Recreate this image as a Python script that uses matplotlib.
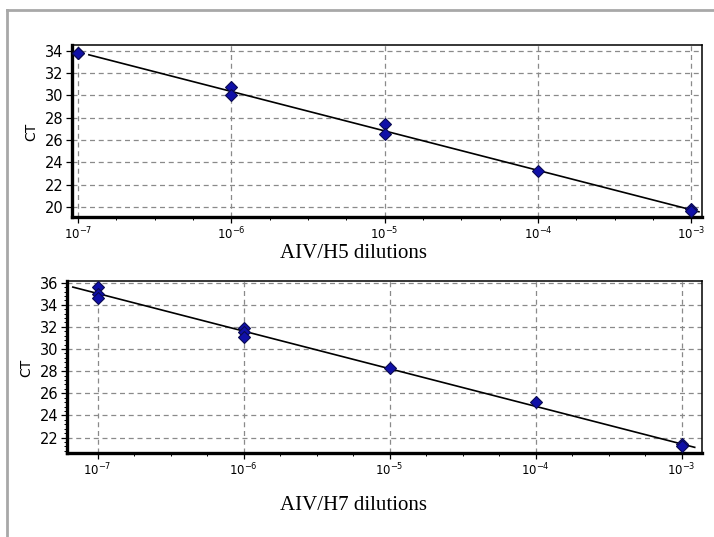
import matplotlib
matplotlib.use("Agg")
import matplotlib.pyplot as plt
import numpy as np
from matplotlib.lines import Line2D
from matplotlib.ticker import FixedLocator, MultipleLocator, FuncFormatter

# AIV/H5 standard curve: log10 dilution vs CT
h5_logdil = [-7, -7, -6, -6, -5, -5, -4, -3, -3]
h5_ct = [33.8, 33.8, 30.7, 30.0, 27.4, 26.5, 23.2, 19.8, 19.6]

# AIV/H7 standard curve
h7_logdil = [-7, -7, -7, -6, -6, -6, -5, -4, -3, -3]
h7_ct = [35.6, 35.0, 34.6, 31.9, 31.5, 31.1, 28.3, 25.2, 21.4, 21.2]

decades = [-7, -6, -5, -4, -3]
h5_yticks = [20, 22, 24, 26, 28, 30, 32, 34]
h7_yticks = [22, 24, 26, 28, 30, 32, 34, 36]

W, H = 714, 537
fig = plt.figure(figsize=(W / 100, H / 100), dpi=100)
fig.patch.set_facecolor("white")

# grey frame of the screenshot
fig.add_artist(Line2D([7 / W, 7 / W], [0, 1 - 10 / H], transform=fig.transFigure,
                      color="#a8a8a8", lw=2))
fig.add_artist(Line2D([7 / W, 1], [1 - 10 / H, 1 - 10 / H], transform=fig.transFigure,
                      color="#a8a8a8", lw=2))


def fmt(v, pos):
    return r"$\mathregular{10^{%d}}$" % round(np.log10(v))


def panel(rect, xs, ys, yticks, xlim, ylim, fit_range, yminor):
    ax = fig.add_axes(rect)
    ax.set_xscale("log")
    ax.set_xlim(10 ** xlim[0], 10 ** xlim[1])
    ax.set_ylim(*ylim)
    ax.xaxis.set_major_locator(FixedLocator([10.0 ** d for d in decades]))
    minor = [10.0 ** (d + q) for d in range(-8, -2) for q in (0.25, 0.5, 0.75)]
    ax.xaxis.set_minor_locator(FixedLocator(minor))
    ax.xaxis.set_major_formatter(FuncFormatter(fmt))
    ax.xaxis.set_minor_formatter(FuncFormatter(lambda v, p: ""))
    ax.set_yticks(yticks)
    if yminor:
        ax.yaxis.set_minor_locator(MultipleLocator(0.4))
    ax.grid(True, which="major", color="#8a8a8a", ls=(0, (4, 3)), lw=0.9)
    ax.set_axisbelow(True)
    for side in ("left", "bottom"):
        ax.spines[side].set_linewidth(2.4)
    for side in ("top", "right"):
        ax.spines[side].set_linewidth(1.1)
    ax.tick_params(axis="both", which="major", length=4, width=0.9)
    ax.tick_params(axis="both", which="minor", length=2.5, width=0.7)
    ax.tick_params(axis="x", pad=2, labelsize=8.5)
    ax.tick_params(axis="y", pad=2, labelsize=10.5)

    # regression line
    k, b = np.polyfit(xs, ys, 1)
    lx = np.array(fit_range)
    ax.plot(10 ** lx, k * lx + b, color="black", lw=1.2, zorder=3)
    ax.plot(10.0 ** np.array(xs), ys, ls="none", marker="D", markersize=6,
            markerfacecolor="#1010a8", markeredgecolor="#0a0a50", markeredgewidth=0.8,
            zorder=4)
    return ax


panel([72 / W, 1 - 217 / H, 630 / W, 172 / H], h5_logdil, h5_ct, h5_yticks,
      (-7.04, -2.93), (19.1, 34.5), (-6.93, -2.95), False)
panel([67 / W, 1 - 453 / H, 635 / W, 172 / H], h7_logdil, h7_ct, h7_yticks,
      (-7.21, -2.86), (20.6, 36.15), (-7.17, -2.91), True)

fig.text(31 / W, 1 - 132 / H, "CT", rotation=90, ha="center", va="center", fontsize=10)
fig.text(26 / W, 1 - 368 / H, "CT", rotation=90, ha="center", va="center", fontsize=10)

fig.text(354 / W, 1 - 253 / H, "AIV/H5 dilutions", ha="center", va="center",
         fontsize=15, family="Liberation Serif")
fig.text(353 / W, 1 - 506 / H, "AIV/H7 dilutions", ha="center", va="center",
         fontsize=15, family="Liberation Serif")

fig.savefig("out.png", dpi=100)
